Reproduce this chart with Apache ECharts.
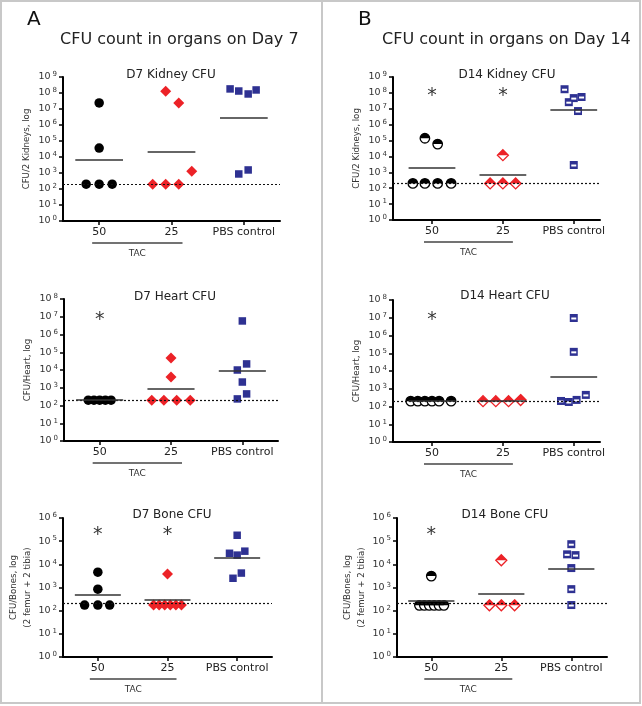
<!DOCTYPE html>
<html><head><meta charset="utf-8">
<script src="https://cdn.jsdelivr.net/npm/echarts@6/dist/echarts.min.js"></script>
<style>html,body{margin:0;padding:0;background:#fff}#c{width:642px;height:706px}</style>
</head><body><div id="c"></div>
<script>
// ---------- DATA ----------
const categories = ['50', '25', 'PBS control'];
const groupLabel = 'TAC';
const LOD = 200;

// Day 7 kidney (CFU / 2 kidneys)
const d7Kidney50 = [2.4e7, 3.6e4, 200, 200, 200];
const d7Kidney25 = [1.3e8, 2.4e7, 1300, 200, 200, 200];
const d7KidneyPBS = [1.8e8, 1.33e8, 8.7e7, 1.55e8, 870, 1550];
const d7KidneyMeans = [6500, 2.0e4, 2.7e6];
const d7KidneyStars = [];

// Day 7 heart
const d7Heart50 = [200, 200, 200, 200, 200];
const d7Heart25 = [4.8e4, 4000, 200, 200, 200, 200];
const d7HeartPBS = [5.8e6, 2.2e4, 1.0e4, 2100, 450, 235];
const d7HeartMeans = [200, 850, 8700];
const d7HeartStars = [[1, 1.4e7]];

// Day 7 bone
const d7Bone50 = [4600, 850, 175, 175, 175];
const d7Bone25 = [3800, 175, 175, 175, 175, 175, 175];
const d7BonePBS = [1.8e5, 3.0e4, 2.5e4, 3.7e4, 4200, 2500];
const d7BoneMeans = [470, 290, 2.0e4];
const d7BoneStars = [[1, 3.3e5], [2, 3.3e5]];

// Day 14 kidney
const d14Kidney50 = [1.4e5, 6.0e4, 200, 200, 200, 200];
const d14Kidney25 = [1.2e4, 200, 200, 200];
const d14KidneyPBS = [1.7e8, 4.7e7, 5.5e7, 2.6e7, 7.2e6, 2900];
const d14KidneyMeans = [1900, 680, 8.3e6];
const d14KidneyStars = [[1, 1.5e8], [2, 1.5e8]];

// Day 14 heart
const d14Heart50 = [200, 200, 200, 200, 200, 200];
const d14Heart25 = [200, 200, 200, 230];
const d14HeartPBS = [9.7e6, 1.2e5, 205, 180, 235, 450];
const d14HeartMeans = [200, 200, 4600];
const d14HeartStars = [[1, 1.6e7]];

// Day 14 bone
const d14Bone50 = [3100, 170, 170, 170, 170, 170, 170];
const d14Bone25 = [1.5e4, 170, 170, 170];
const d14BonePBS = [7.4e4, 2.7e4, 2.5e4, 6900, 850, 175];
const d14BoneMeans = [260, 520, 6200];
const d14BoneStars = [[1, 3.3e5]];

// ---------- horizontal scatter (jitter) of points inside a group ----------
const jit = {
  d7Kidney: [[0, 0, -0.18, 0, 0.18], [-0.08, 0.1, 0.28, -0.26, -0.08, 0.1], [-0.19, -0.07, 0.06, 0.17, -0.07, 0.06]],
  d7Heart: [[-0.16, -0.08, 0, 0.08, 0.16], [0, 0, -0.27, -0.1, 0.08, 0.27], [0, 0.06, -0.07, 0, 0.06, -0.07]],
  d7Bone: [[0, 0, -0.19, 0, 0.17], [0, -0.2, -0.12, -0.04, 0.04, 0.12, 0.2], [0, -0.11, 0, 0.11, 0.06, -0.06]],
  d14Kidney: [[-0.1, 0.08, -0.27, -0.1, 0.08, 0.27], [0, -0.18, 0, 0.18], [-0.13, 0, 0.11, -0.07, 0.06, 0]],
  d14Heart: [[-0.3, -0.2, -0.1, 0, 0.1, 0.27], [-0.28, -0.1, 0.08, 0.25], [0, 0, -0.18, -0.07, 0.04, 0.17]],
  d14Bone: [[0, -0.17, -0.1, -0.03, 0.04, 0.11, 0.18], [0, -0.17, 0, 0.19], [0, -0.06, 0.06, 0, 0, 0]]
};

// ---------- STYLES / LAYOUT ----------
const RED = '#ec2227', BLUE = '#2e3192', BLACK = '#000';
const FONT = 'DejaVu Sans';
const panels = [
  {key:'d7Kidney', title:'D7 Kidney CFU', yName:'CFU/2 Kidneys, log', nameGap:29, dec:9, groups:[d7Kidney50,d7Kidney25,d7KidneyPBS], means:d7KidneyMeans, stars:d7KidneyStars,
   grid:{left:63, top:77, width:217, height:144}, xr:[0.5,3.5], tcx:166, tcy:72, half:false, tac:[-7, 11]},
  {key:'d7Heart', title:'D7 Heart CFU', yName:'CFU/Heart, log', nameGap:29, dec:8, groups:[d7Heart50,d7Heart25,d7HeartPBS], means:d7HeartMeans, stars:d7HeartStars,
   grid:{left:64, top:299, width:214, height:142}, xr:[0.5,3.5], tcx:170, tcy:294, half:false, tac:[-7, 11]},
  {key:'d7Bone', title:'D7 Bone CFU', yName:'CFU/Bones, log\n(2 femur + 2 tibia)', nameGap:26, dec:6, groups:[d7Bone50,d7Bone25,d7BonePBS], means:d7BoneMeans, stars:d7BoneStars,
   grid:{left:63, top:518, width:209, height:139}, xr:[0.5,3.5], tcx:167, tcy:512, half:false, tac:[-8, 9]},
  {key:'d14Kidney', title:'D14 Kidney CFU', yName:'CFU/2 Kidneys, log', nameGap:29, dec:9, groups:[d14Kidney50,d14Kidney25,d14KidneyPBS], means:d14KidneyMeans, stars:d14KidneyStars,
   grid:{left:393, top:77, width:207, height:143}, xr:[0.45,3.37], tcx:502, tcy:72, half:true, tac:[-8, 10]},
  {key:'d14Heart', title:'D14 Heart CFU', yName:'CFU/Heart, log', nameGap:29, dec:8, groups:[d14Heart50,d14Heart25,d14HeartPBS], means:d14HeartMeans, stars:d14HeartStars,
   grid:{left:393, top:300, width:207, height:142}, xr:[0.45,3.37], tcx:500, tcy:293, half:true, tac:[-8, 10]},
  {key:'d14Bone', title:'D14 Bone CFU', yName:'CFU/Bones, log\n(2 femur + 2 tibia)', nameGap:26, dec:6, groups:[d14Bone50,d14Bone25,d14BonePBS], means:d14BoneMeans, stars:d14BoneStars,
   grid:{left:397, top:518, width:210, height:139}, xr:[0.51,3.51], tcx:500, tcy:512, half:true, tac:[-7, 11]}
];

const HALF_DISC = 'path://M0,10A10,10,0,0,1,20,10Z';
const HALF_DIAM = 'path://M0,10L10,0L20,10Z';

const chart = echarts.init(document.getElementById('c'), null, {renderer:'canvas'});
const option = {
  animation:false,
  backgroundColor:'#fff',
  title:[], grid:[], xAxis:[], yAxis:[], series:[]
};

option.title.push({text:'A', left:22, top:5, textStyle:{fontFamily:FONT, fontSize:20, fontWeight:'normal', color:'#111'}});
option.title.push({text:'B', left:353, top:5, textStyle:{fontFamily:FONT, fontSize:20, fontWeight:'normal', color:'#111'}});
option.title.push({text:'CFU count in organs on Day 7', left:55, top:27, textStyle:{fontFamily:FONT, fontSize:16, fontWeight:'normal', color:'#222'}});
option.title.push({text:'CFU count in organs on Day 14', left:377, top:27, textStyle:{fontFamily:FONT, fontSize:16, fontWeight:'normal', color:'#222'}});

panels.forEach((p, i) => {
  option.title.push({text:p.title, left:p.tcx, top:p.tcy - 8, textAlign:'center',
    textStyle:{fontFamily:FONT, fontSize:12, fontWeight:'normal', color:'#222'}});
  option.grid.push(Object.assign({containLabel:false}, p.grid));
  option.xAxis.push({
    type:'value', gridIndex:i, min:p.xr[0], max:p.xr[1],
    splitLine:{show:false},
    axisLine:{show:true, onZero:false, lineStyle:{color:BLACK, width:2}},
    axisTick:{show:true, customValues:[1,2,3], length:4, lineStyle:{color:BLACK, width:1.5}},
    axisLabel:{customValues:[1,2,3], formatter:v => categories[Math.round(v)-1] || '', fontFamily:FONT, fontSize:11, color:'#222', margin:6}
  });
  option.yAxis.push({
    type:'log', logBase:10, gridIndex:i, min:1, max:Math.pow(10, p.dec), splitNumber:p.dec,
    name:p.yName, nameLocation:'middle', nameGap:p.nameGap,
    nameTextStyle:{fontFamily:FONT, fontSize:8.6, color:'#333', lineHeight:14},
    splitLine:{show:false}, minorTick:{show:false},
    axisLine:{show:true, lineStyle:{color:BLACK, width:2}},
    axisTick:{show:true, length:4, lineStyle:{color:BLACK, width:1.5}},
    axisLabel:{margin:6, formatter:v => '{b|10}{s|' + Math.round(Math.log10(v)) + '}',
      rich:{b:{fontFamily:FONT, fontSize:9.5, color:'#333'}, s:{fontFamily:FONT, fontSize:7, color:'#333', verticalAlign:'top', padding:[0,0,5,2]}}}
  });

  // LOD dotted line + mean lines carrier
  option.series.push({
    type:'scatter', xAxisIndex:i, yAxisIndex:i, data:[], silent:true, z:1,
    markLine:{silent:true, symbol:'none', animation:false, label:{show:false},
      data:[
        {yAxis:LOD, lineStyle:{color:'#111', type:[2,2], width:1.2}},
        ...p.means.map((m, g) => [{coord:[g+1-0.33, m], lineStyle:{color:'#333', width:1.5, type:'solid'}}, {coord:[g+1+0.33, m]}])
      ]}
  });

  const colors = [BLACK, RED, BLUE];
  const shapes = ['circle', 'diamond', 'rect'];
  const sizes = [9.5, 11, 8];
  p.groups.forEach((vals, g) => {
    const data = vals.map((v, k) => [g + 1 + jit[p.key][g][k], v]);
    if (!p.half) {
      option.series.push({type:'scatter', xAxisIndex:i, yAxisIndex:i, data, symbol:shapes[g], symbolSize:g===2?7.5:sizes[g],
        itemStyle:{color:colors[g], opacity:1}, z:3, silent:true});
    } else {
      if (g < 2) {
        const s = sizes[g];
        option.series.push({type:'scatter', xAxisIndex:i, yAxisIndex:i, data, symbol:shapes[g], symbolSize:s,
          itemStyle:{color:'#fff', borderColor:colors[g], borderWidth:1.3, opacity:1}, z:3, silent:true});
        option.series.push({type:'scatter', xAxisIndex:i, yAxisIndex:i, data, symbol:g===0?HALF_DISC:HALF_DIAM,
          symbolSize:[s, s/2], symbolOffset:[0, -s/4], symbolKeepAspect:false,
          itemStyle:{color:colors[g], opacity:1}, z:4, silent:true});
      } else {
        option.series.push({type:'scatter', xAxisIndex:i, yAxisIndex:i, data, symbol:'rect', symbolSize:8,
          itemStyle:{color:BLUE, opacity:1}, z:3, silent:true});
        option.series.push({type:'scatter', xAxisIndex:i, yAxisIndex:i, data, symbol:'rect', symbolSize:[5, 2], symbolOffset:[0, 0.5],
          itemStyle:{color:'#fff', opacity:1}, z:4, silent:true});
      }
    }
  });

  if (p.stars.length) {
    option.series.push({type:'scatter', xAxisIndex:i, yAxisIndex:i, data:p.stars, symbolSize:1, z:5, silent:true,
      itemStyle:{color:'rgba(0,0,0,0)'},
      label:{show:true, formatter:'*', position:'inside', offset:[0, 6], fontFamily:FONT, fontSize:19, color:'#000'}});
  }
});

chart.setOption(option);

// annotation: TAC brackets + frame
const graphics = [
  {type:'rect', shape:{x:1, y:1, width:639, height:702}, style:{fill:'none', stroke:'#c8c8c8', lineWidth:2}, silent:true, z:0},
  {type:'line', shape:{x1:322, y1:0, x2:322, y2:703}, style:{stroke:'#c8c8c8', lineWidth:2}, silent:true, z:0}
];
panels.forEach((p, i) => {
  const a = chart.convertToPixel({gridIndex:i}, [1, 1]);
  const b = chart.convertToPixel({gridIndex:i}, [2, 1]);
  const yb = p.grid.top + p.grid.height + 22;
  const x1 = a[0] + p.tac[0], x2 = b[0] + p.tac[1];
  graphics.push({type:'line', shape:{x1, y1:yb, x2, y2:yb}, style:{stroke:'#444', lineWidth:1.3}, silent:true});
  graphics.push({type:'text', x:(x1 + x2) / 2, y:yb + 11, style:{text:groupLabel, font:'9px "DejaVu Sans"', fill:'#333', textAlign:'center', textVerticalAlign:'middle'}, silent:true});
});
chart.setOption({graphic:graphics});
</script>
</body></html>
